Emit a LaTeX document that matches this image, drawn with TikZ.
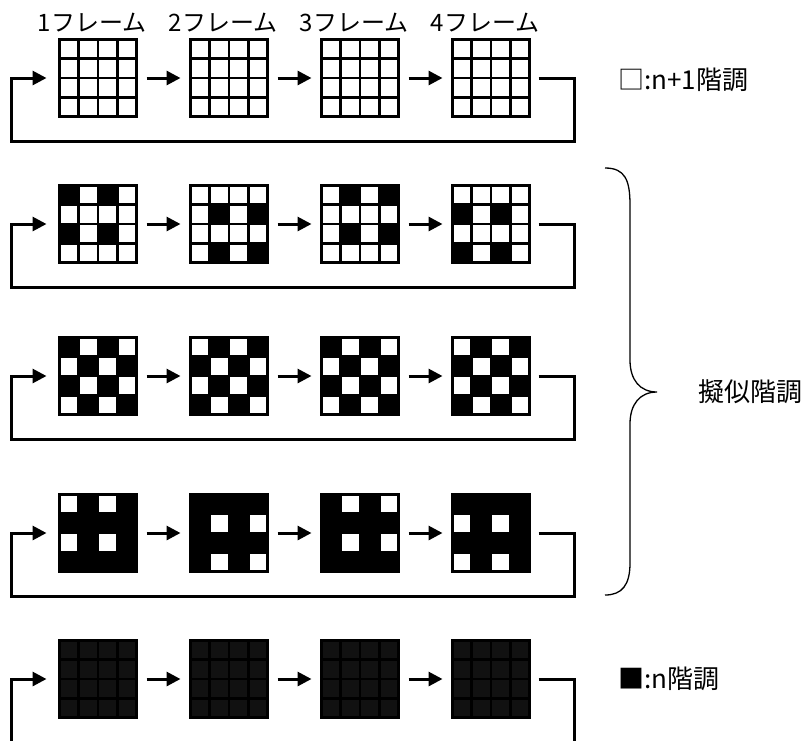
\documentclass[tikz,border=0pt]{standalone}
\usepackage{fontspec}
\setmainfont{Noto Sans CJK JP}
\usepackage{xcolor}
\usepackage{tikz}
\usetikzlibrary{arrows.meta, positioning}
\definecolor{pixdark}{HTML}{111111}

\begin{document}
\begin{tikzpicture}[
    x=1pt, y=-1pt,
    pixframe/.style={rectangle, inner sep=0pt, outer sep=0pt, minimum width=77pt, minimum height=77pt},
    gridline/.style={draw=black, line width=2.8pt, line cap=rect},
    flow/.style={draw=black, line width=3pt, -{Triangle[length=14pt, width=14pt]}},
    framelabel/.style={font=\fontsize{24}{27}\selectfont, inner sep=1pt},
    sidelabel/.style={font=\fontsize{26}{29}\selectfont, anchor=west, inner sep=0pt},
    brace/.style={draw=black, line width=1.3pt}
]
    \useasboundingbox (0,0) rectangle (805,740);

    % Frames: five sequences of four 4x4 frames
    \foreach \r/\y/\bg in {1/78/white, 2/224/white, 3/376/white, 4/533/black, 5/679/pixdark}
        \foreach \f in {1,...,4}
            \node[pixframe, fill=\bg] (f\r\f) at ({98+131*(\f-1)}, \y) {};

    % Dithered cells: row 2 black dots, row 4 white holes at the same places
    \foreach \f/\cells in {1/{1/1,3/1,1/3,3/3}, 2/{2/2,4/2,2/4,4/4}, 3/{2/1,4/1,2/3,4/3}, 4/{1/2,3/2,1/4,3/4}}
        \foreach \c/\j in \cells {
            \fill[black] ([shift={({19.25*(\c-1)},{19.25*(\j-1)})}]f2\f.north west) rectangle ++(19.25,19.25);
            \fill[white] ([shift={({19.25*(\c-1)},{19.25*(\j-1)})}]f4\f.north west) rectangle ++(19.25,19.25);
        }

    % Checkerboard row
    \foreach \f/\p in {1/0, 2/1, 3/0, 4/1}
        \foreach \c in {1,...,4}
            \foreach \j in {1,...,4} {
                \pgfmathparse{int(mod(\c+\j+\p,2))}
                \ifnum\pgfmathresult=0
                    \fill[black] ([shift={({19.25*(\c-1)},{19.25*(\j-1)})}]f3\f.north west) rectangle ++(19.25,19.25);
                \fi
            }

    % Grid lines
    \foreach \r in {1,...,5}
        \foreach \f in {1,...,4}
            \foreach \k in {0,...,4} {
                \draw[gridline] ([shift={({19.25*\k},0)}]f\r\f.north west) -- ++(0,77);
                \draw[gridline] ([shift={(0,{19.25*\k})}]f\r\f.north west) -- ++(77,0);
            }

    % Frame order and loop back
    \foreach \r in {1,...,5} {
        \draw[flow, shorten <=10pt, shorten >=10pt] (f\r1) -- (f\r2);
        \draw[flow, shorten <=10pt, shorten >=10pt] (f\r2) -- (f\r3);
        \draw[flow, shorten <=10pt, shorten >=10pt] (f\r3) -- (f\r4);
        \draw[flow, shorten <=9pt, shorten >=13pt] (f\r4.east) -- ++(45,0) -- ++(0,63) -- ++(-563,0) |- (f\r1.west);
    }

    % Frame labels
    \foreach \f in {1,...,4}
        \node[framelabel, above=6pt of f1\f, xshift=-6pt] (lab\f) {\f フレーム};

    % Levels
    \node[sidelabel] (lvlhi) at (618,80) {□:n+1階調};
    \node[sidelabel] (lvlpseudo) at (698,392) {擬似階調};
    \node[sidelabel] (lvllo) at (618,679) {■:n階調};

    % Brace for the pseudo levels
    \draw[brace] (605,168) .. controls (625,168) and (630,180) .. (630,205) -- (630,360)
        .. controls (630,380) and (640,392) .. (657,392)
        .. controls (640,392) and (630,404) .. (630,424) -- (630,563)
        .. controls (630,585) and (622,595) .. (605,595);
\end{tikzpicture}
\end{document}
